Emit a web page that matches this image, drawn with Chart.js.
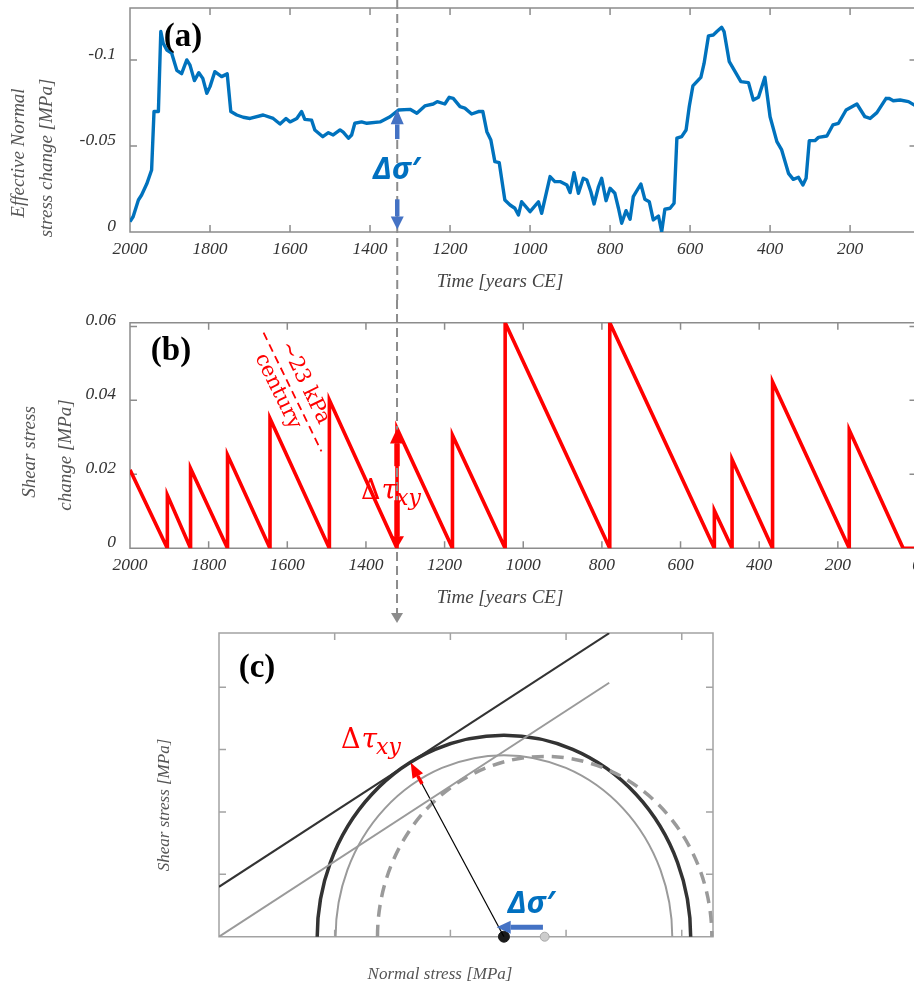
<!DOCTYPE html>
<html><head><meta charset="utf-8">
<script src="https://cdn.jsdelivr.net/npm/chart.js@4/dist/chart.umd.min.js"></script>
<style>
html,body{margin:0;padding:0;background:#fff;overflow:hidden;}
#wrap{position:relative;width:914px;height:985px;overflow:hidden;background:#fff;}
canvas{position:absolute;left:0;}
</style></head><body>
<div id="wrap">
<canvas id="cc" width="914" height="365" style="top:620px"></canvas>
<canvas id="cb" width="930" height="330" style="top:300px"></canvas>
<canvas id="ca" width="930" height="300" style="top:0px"></canvas>
</div>
<script>
// ---------- Panel (a): effective normal stress change ----------
const yearsA = [2000,1992,1979,1971,1958,1946,1940,1929,1923,1917,1908,1896,1883,1871,1858,1850,1839,1828,1818,1808,1800,1788,1771,1757,1748,1733,1717,1700,1667,1642,1625,1610,1600,1583,1571,1563,1546,1538,1518,1504,1492,1475,1467,1454,1446,1438,1421,1408,1375,1350,1329,1300,1283,1263,1242,1232,1213,1202,1192,1175,1163,1146,1129,1118,1108,1098,1088,1077,1063,1050,1038,1029,1021,1000,979,971,950,938,925,908,900,890,879,867,858,848,840,829,821,810,800,788,779,771,760,750,742,723,713,702,692,679,671,663,650,640,633,621,610,602,593,579,573,565,554,542,533,521,515,502,490,473,454,442,429,413,400,383,371,354,342,329,318,310,302,288,279,258,243,229,210,183,163,150,133,110,102,92,75,54,34];
const sigmaA = [-0.006,-0.009,-0.0186,-0.0215,-0.028,-0.036,-0.070,-0.070,-0.1165,-0.1097,-0.1058,-0.104,-0.094,-0.092,-0.100,-0.097,-0.088,-0.0926,-0.0893,-0.0806,-0.0845,-0.0932,-0.0903,-0.0919,-0.070,-0.068,-0.0667,-0.066,-0.068,-0.066,-0.0628,-0.066,-0.064,-0.066,-0.070,-0.0655,-0.065,-0.0593,-0.0554,-0.0577,-0.0564,-0.0593,-0.058,-0.0545,-0.0564,-0.0632,-0.064,-0.0632,-0.064,-0.067,-0.0709,-0.0713,-0.069,-0.0733,-0.0744,-0.0758,-0.0744,-0.0783,-0.0777,-0.0729,-0.072,-0.0686,-0.070,-0.070,-0.0583,-0.0535,-0.0409,-0.0403,-0.0186,-0.0157,-0.0138,-0.0099,-0.0176,-0.0118,-0.0176,-0.0109,-0.0322,-0.0293,-0.0293,-0.0273,-0.0229,-0.0345,-0.0225,-0.0312,-0.0302,-0.0234,-0.0163,-0.0263,-0.0312,-0.0182,-0.0254,-0.0225,-0.0138,-0.0051,-0.0124,-0.0074,-0.0205,-0.0279,-0.019,-0.0176,-0.007,-0.0093,-0.0002,-0.0132,-0.0138,-0.0167,-0.0545,-0.0554,-0.0593,-0.0729,-0.0849,-0.0884,-0.0899,-0.098,-0.114,-0.1145,-0.1165,-0.119,-0.1165,-0.099,-0.0942,-0.0874,-0.0868,-0.0767,-0.0783,-0.0899,-0.067,-0.0525,-0.0477,-0.0341,-0.0306,-0.0318,-0.0273,-0.0312,-0.0531,-0.0531,-0.055,-0.0558,-0.0622,-0.0632,-0.0709,-0.0744,-0.067,-0.066,-0.0694,-0.0777,-0.0776,-0.0763,-0.0767,-0.0758,-0.0730];
const xTicksA = [2000,1800,1600,1400,1200,1000,800,600,400,200];
const yTicksA = [0,-0.05,-0.1];
const yLabelsA = ['0','-0.05','-0.1'];
const markerYearA = 1332;

// ---------- Panel (b): shear stress change (sawtooth) ----------
const yearsB = [2000,1905,1905,1846,1846,1752,1752,1644,1644,1493,1493,1321,1321,1180,1180,1046,1046,780,780,514,514,469,469,366,366,171,171,34,0];
const tauB   = [0.0212,0,0.0144,0,0.0216,0,0.0252,0,0.0351,0,0.0401,0,0.0324,0,0.0306,0,0.061,0,0.061,0,0.0102,0,0.024,0,0.045,0,0.032,0,0];
const xTicksB = [2000,1800,1600,1400,1200,1000,800,600,400,200,0];
const yTicksB = [0,0.02,0.04,0.06];
const yLabelsB = ['0','0.02','0.04','0.06'];
const markerYearB = 1321;

// ---------- Panel (c): Mohr diagram ----------
const mohrNames  = ['after','shifted','before'];
const mohrCenter = [2.463,2.463,2.815];
const mohrRadius = [1.614,1.455,1.445];
const envX       = [0,3.373];
const envAfterY  = [0.40,2.433];
const envBeforeY = [0,2.035];
const radiusFrom = [2.463,0];
const radiusTo   = [1.657,1.394];
const shiftArrowX = [2.80,2.40];
const shiftArrowY = 0.075;
const centerDotsX = [2.463,2.815];
const xTicksC = [0,1,2,3,4];
const yTicksC = [0,0.5,1,1.5,2];

const SERIF = '"Liberation Serif","Times New Roman",serif';
const FRAME = '#8c8c8c';

function frame(chart, len, color, lw){
  const {ctx, chartArea:a, scales:{x,y}} = chart;
  ctx.save();
  ctx.strokeStyle=color; ctx.lineWidth=lw; ctx.setLineDash([]);
  ctx.beginPath();
  ctx.rect(a.left, a.top, a.right-a.left, a.bottom-a.top);
  x.ticks.forEach(t=>{const p=x.getPixelForValue(t.value);
    ctx.moveTo(p,a.bottom); ctx.lineTo(p,a.bottom-len); ctx.moveTo(p,a.top); ctx.lineTo(p,a.top+len);});
  y.ticks.forEach(t=>{const p=y.getPixelForValue(t.value);
    ctx.moveTo(a.left,p); ctx.lineTo(a.left+len,p); ctx.moveTo(a.right,p); ctx.lineTo(a.right-len,p);});
  ctx.stroke(); ctx.restore();
}
function text(ctx, s, x, y, font, color, align, baseline, rot){
  ctx.save(); ctx.translate(x,y); ctx.rotate(rot||0);
  ctx.font=font; ctx.fillStyle=color; ctx.textAlign=align||'center'; ctx.textBaseline=baseline||'middle';
  ctx.fillText(s,0,0); ctx.restore();
}
function arrow(ctx,x1,y1,x2,y2,color,w,hl,hw){
  const ang=Math.atan2(y2-y1,x2-x1);
  const bx=x2-hl*Math.cos(ang), by=y2-hl*Math.sin(ang);
  ctx.save(); ctx.setLineDash([]); ctx.strokeStyle=color; ctx.fillStyle=color; ctx.lineWidth=w;
  ctx.beginPath(); ctx.moveTo(x1,y1); ctx.lineTo(bx,by); ctx.stroke();
  ctx.beginPath(); ctx.moveTo(x2,y2);
  ctx.lineTo(bx+hw/2*Math.sin(ang), by-hw/2*Math.cos(ang));
  ctx.lineTo(bx-hw/2*Math.sin(ang), by+hw/2*Math.cos(ang));
  ctx.closePath(); ctx.fill(); ctx.restore();
}
function dashedV(ctx,x,y1,y2){
  ctx.save(); ctx.strokeStyle='#8c8c8c'; ctx.lineWidth=2; ctx.setLineDash([9,5]);
  ctx.beginPath(); ctx.moveTo(x,y1); ctx.lineTo(x,y2); ctx.stroke(); ctx.restore();
}
function deltaTau(ctx,x0,y0){
  ctx.save(); ctx.fillStyle='#FF0000'; ctx.textBaseline='alphabetic'; ctx.textAlign='left';
  ctx.font='27px "DejaVu Serif",serif'; let tx=x0; ctx.fillText('Δ',tx,y0); tx+=ctx.measureText('Δ').width+1;
  ctx.font='italic 28px "DejaVu Serif",serif'; ctx.fillText('τ',tx,y0); tx+=ctx.measureText('τ').width-1;
  ctx.font='italic 22px "DejaVu Serif",serif'; ctx.fillText('xy',tx,y0+6);
  ctx.restore();
}
function zeroPad(s){ s.paddingLeft=0; s.paddingRight=0; s.paddingTop=0; s.paddingBottom=0; }
const tickFont = {family:SERIF, style:'italic', size:17.5};
function timeAxis(minYear, ticksArr, h){
  return { type:'linear', reverse:true, min:minYear, max:2000,
    grid:{display:false, drawTicks:false}, border:{display:false},
    ticks:{autoSkip:false, maxRotation:0, minRotation:0, padding:7, color:'#333', font:tickFont, callback:v=>String(v)},
    afterBuildTicks:s=>{s.ticks=ticksArr.map(v=>({value:v}));},
    afterFit:s=>{s.height=h; zeroPad(s);} };
}
function valueAxis(min,max,reverse,ticksArr,labels,w){
  return { type:'linear', min:min, max:max, reverse:reverse,
    grid:{display:false, drawTicks:false}, border:{display:false},
    ticks:{autoSkip:false, padding:14, labelOffset:-6, color:'#333', font:tickFont,
      callback:v=>{const i=ticksArr.indexOf(v); return i>=0?labels[i]:'';}},
    afterBuildTicks:s=>{s.ticks=ticksArr.map(v=>({value:v}));},
    afterFit:s=>{s.width=w; zeroPad(s);} };
}
const base = {responsive:false, animation:false, devicePixelRatio:1, events:[],
  plugins:{legend:{display:false}, tooltip:{enabled:false}}};
const SIGFONT = 'italic bold 31px "Open Sans","DejaVu Sans",sans-serif';

// ---------- Chart (a) ----------
new Chart(document.getElementById('ca'), {
  type:'line',
  data:{datasets:[{data:yearsA.map((x,i)=>({x:x,y:sigmaA[i]})), borderColor:'#0072BD', borderWidth:3.4,
    pointRadius:0, tension:0, fill:false, borderJoinStyle:'round'}]},
  options:Object.assign({}, base, {
    layout:{padding:{left:0,right:13.5,top:8,bottom:0}},
    scales:{x:timeAxis(34,xTicksA,68), y:valueAxis(-0.1302,0,true,yTicksA,yLabelsA,130)}
  }),
  plugins:[{id:'decoA',
    beforeDatasetsDraw(chart){ frame(chart,7,FRAME,1.5); },
    afterDatasetsDraw(chart){
      const {ctx, scales:{x,y}} = chart;
      const mx = x.getPixelForValue(markerYearA);
      dashedV(ctx,mx,0,chart.height);
      arrow(ctx,mx,y.getPixelForValue(-0.054),mx,y.getPixelForValue(-0.0713),'#4472C4',4.5,15,13);
      arrow(ctx,mx,y.getPixelForValue(-0.019),mx,y.getPixelForValue(-0.0015),'#4472C4',4.5,13,13);
      text(ctx,'Δσ′',mx-1,179,SIGFONT,'#0070C0','center','alphabetic');
      text(ctx,'(a)',183,37,'bold 33px '+SERIF,'#000');
      text(ctx,'Time [years CE]',500,282,'italic 19px '+SERIF,'#444');
      text(ctx,'Effective Normal',19,153,'italic 19px '+SERIF,'#555','center','middle',-Math.PI/2);
      text(ctx,'stress change [MPa]',47,158,'italic 19px '+SERIF,'#555','center','middle',-Math.PI/2);
    }}]
});

// ---------- Chart (b) ----------
new Chart(document.getElementById('cb'), {
  type:'line',
  data:{datasets:[{data:yearsB.map((x,i)=>({x:x,y:tauB[i]})), borderColor:'#FF0000', borderWidth:3.6,
    pointRadius:0, tension:0, fill:false, borderJoinStyle:'miter'}]},
  options:Object.assign({}, base, {
    layout:{padding:{left:0,right:13.5,top:22.7,bottom:0}},
    scales:{x:timeAxis(0,xTicksB,81.7), y:valueAxis(0,0.061,false,yTicksB,yLabelsB,130)}
  }),
  plugins:[{id:'decoB',
    beforeDatasetsDraw(chart){ frame(chart,7,FRAME,1.5); },
    afterDatasetsDraw(chart){
      const {ctx, scales:{x,y}} = chart;
      const mx = x.getPixelForValue(markerYearB);
      dashedV(ctx,mx,0,313);
      ctx.save(); ctx.fillStyle='#8c8c8c'; ctx.beginPath();
      ctx.moveTo(mx-6,313); ctx.lineTo(mx+6,313); ctx.lineTo(mx,323); ctx.closePath(); ctx.fill(); ctx.restore();
      arrow(ctx,mx,y.getPixelForValue(0.0222),mx,y.getPixelForValue(0.0324),'#FF0000',5.5,15,14);
      arrow(ctx,mx,y.getPixelForValue(0.013),mx,y.getPixelForValue(0),'#FF0000',5.5,12,14);
      deltaTau(ctx,361,199);
      // rotated rate annotation
      ctx.save(); ctx.translate(292.5,92); ctx.rotate(64*Math.PI/180);
      ctx.fillStyle='#FF0000'; ctx.strokeStyle='#FF0000'; ctx.lineWidth=1.8; ctx.setLineDash([8,5]);
      ctx.beginPath(); ctx.moveTo(-66,0); ctx.lineTo(66,0); ctx.stroke();
      ctx.textAlign='center'; ctx.textBaseline='middle';
      ctx.font='21px "DejaVu Serif",serif';
      ctx.fillText('~23 kPa',-3,-15);
      ctx.fillText('century',-7,13);
      ctx.restore();
      text(ctx,'(b)',171,51,'bold 33px '+SERIF,'#000');
      text(ctx,'Time [years CE]',500,298,'italic 19px '+SERIF,'#444');
      text(ctx,'Shear stress',30,152,'italic 19px '+SERIF,'#555','center','middle',-Math.PI/2);
      text(ctx,'change [MPa]',66,155,'italic 19px '+SERIF,'#555','center','middle',-Math.PI/2);
    }}]
});

// ---------- Chart (c) ----------
const circleColor = ['#333333','#9a9a9a','#9a9a9a'];
const circleWidth = [3.5,2,3.5];
const circleDash  = [[],[],[12,8]];
new Chart(document.getElementById('cc'), {
  type:'scatter',
  data:{datasets:[
    {data:[{x:envX[0],y:envAfterY[0]},{x:envX[1],y:envAfterY[1]}], showLine:true, borderColor:'#333', borderWidth:2, pointRadius:0},
    {data:[{x:envX[0],y:envBeforeY[0]},{x:envX[1],y:envBeforeY[1]}], showLine:true, borderColor:'#9a9a9a', borderWidth:2, pointRadius:0},
    {data:[{x:radiusFrom[0],y:radiusFrom[1]},{x:radiusTo[0],y:radiusTo[1]}], showLine:true, borderColor:'#000', borderWidth:1.2, pointRadius:0},
    {data:centerDotsX.map(v=>({x:v,y:0})), showLine:false, pointRadius:[5.5,4.5], pointBackgroundColor:['#1a1a1a','#cccccc'],
      pointBorderColor:['#1a1a1a','#a8a8a8'], pointBorderWidth:1, clip:false},
    {data:[{x:centerDotsX[1],y:0}], showLine:false, pointRadius:1.8, pointBackgroundColor:'#000', pointBorderColor:'#000', pointBorderWidth:0, clip:false}
  ]},
  options:Object.assign({}, base, {
    layout:{padding:{left:0,right:201,top:13,bottom:0}},
    scales:{
      x:{type:'linear', min:0, max:4.27, grid:{display:false,drawTicks:false}, border:{display:false}, ticks:{display:false},
        afterBuildTicks:s=>{s.ticks=xTicksC.map(v=>({value:v}));}, afterFit:s=>{s.height=48.3; zeroPad(s);}},
      y:{type:'linear', min:0, max:2.434, grid:{display:false,drawTicks:false}, border:{display:false}, ticks:{display:false},
        afterBuildTicks:s=>{s.ticks=yTicksC.map(v=>({value:v}));}, afterFit:s=>{s.width=219; zeroPad(s);}}
    }
  }),
  plugins:[{id:'decoC',
    beforeDatasetsDraw(chart){
      frame(chart,7,'#a3a3a3',1.5);
      const {ctx, chartArea:a, scales:{x,y}} = chart;
      ctx.save(); ctx.beginPath(); ctx.rect(a.left-3,a.top,a.right-a.left+6,a.bottom-a.top+2); ctx.clip();
      mohrCenter.forEach((c,i)=>{
        const cx=x.getPixelForValue(c), cy=y.getPixelForValue(0);
        const rx=x.getPixelForValue(c+mohrRadius[i])-cx, ry=cy-y.getPixelForValue(mohrRadius[i]);
        ctx.beginPath(); ctx.ellipse(cx,cy,rx,ry,0,Math.PI,2*Math.PI);
        ctx.strokeStyle=circleColor[i]; ctx.lineWidth=circleWidth[i]; ctx.setLineDash(circleDash[i]); ctx.stroke();
      });
      ctx.restore();
    },
    afterDatasetsDraw(chart){
      const {ctx, scales:{x,y}} = chart;
      const fx=x.getPixelForValue(radiusFrom[0]), fy=y.getPixelForValue(radiusFrom[1]);
      const tx=x.getPixelForValue(radiusTo[0]), ty=y.getPixelForValue(radiusTo[1]);
      const L=Math.hypot(tx-fx,ty-fy);
      arrow(ctx, tx-(tx-fx)/L*24, ty-(ty-fy)/L*24, tx, ty, '#FF0000', 3.5, 15, 12);
      arrow(ctx, x.getPixelForValue(shiftArrowX[0]), y.getPixelForValue(shiftArrowY),
                 x.getPixelForValue(shiftArrowX[1]), y.getPixelForValue(shiftArrowY), '#4472C4', 5, 14, 13);
      text(ctx,'Δσ′',531,293,SIGFONT,'#0070C0','center','alphabetic');
      deltaTau(ctx,341,128);
      text(ctx,'(c)',257,48,'bold 33px '+SERIF,'#000');
      text(ctx,'Normal stress [MPa]',440,355,'italic 17px '+SERIF,'#555');
      text(ctx,'Shear stress [MPa]',165,185,'italic 17px '+SERIF,'#555','center','middle',-Math.PI/2);
    }}]
});
</script>
</body></html>
